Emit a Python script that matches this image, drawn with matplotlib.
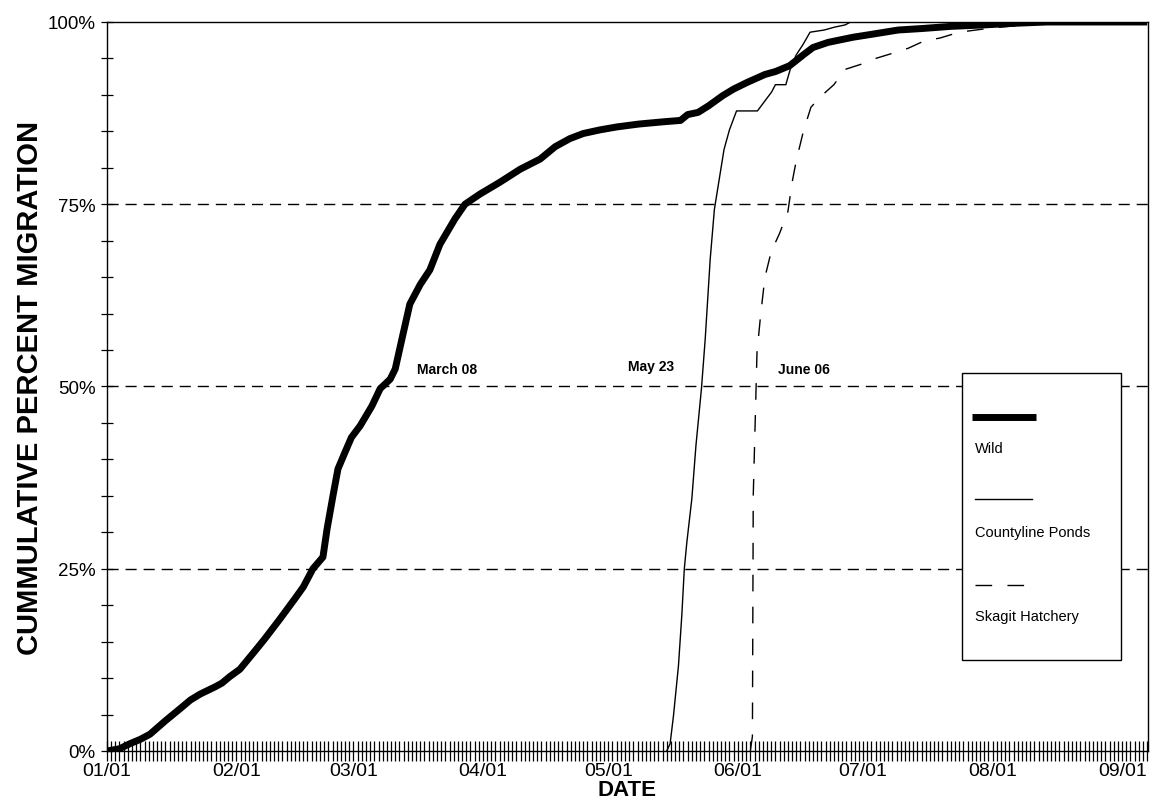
import numpy as np
import matplotlib
matplotlib.use("Agg")
import matplotlib.pyplot as plt
from matplotlib.patches import Rectangle
from matplotlib.lines import Line2D

plt.rcParams['font.family'] = ['Liberation Sans', 'DejaVu Sans']

# days since Jan 01, cumulative percent
wild_day = [0, 3, 5.5, 8, 10.3, 13.9, 17.5, 20, 22.3, 25.9, 27.5, 29.4, 31.8, 35.4,
            37.8, 41.4, 45, 47, 49.3, 51.7, 52.7, 54.1, 55.3, 57, 58.5, 60.6, 63.4,
            65.4, 67.8, 69, 70.6, 72.5, 75, 77.3, 79.7, 83.3, 85.7, 89.3, 94, 98.9,
            103.7, 107.3, 110.8, 114, 118, 122, 127.3, 133, 137.3, 139, 141.5, 144,
            147.4, 150, 153.2, 157.5, 160, 163.4, 166.7, 169, 172.6, 178.5, 184,
            189.4, 195, 202, 210, 216.3, 225, 249]
wild_pct = [0, 0.3, 1, 1.6, 2.3, 4.1, 5.8, 7, 7.8, 8.8, 9.3, 10.2, 11.2, 13.7,
            15.4, 18.1, 20.9, 22.5, 25, 26.6, 30.5, 35, 38.7, 41, 43, 44.6, 47.3,
            49.7, 51, 52.4, 56.5, 61.3, 64, 66, 69.5, 73, 75, 76.4, 78, 79.8,
            81.2, 82.9, 84, 84.7, 85.2, 85.6, 86.0, 86.3, 86.5, 87.3, 87.6, 88.5,
            89.9, 90.8, 91.7, 92.8, 93.2, 94, 95.5, 96.5, 97.2, 97.9, 98.4,
            98.9, 99.1, 99.4, 99.6, 99.8, 100, 100]

county_day = [134.0, 134.8, 135.6, 136.8, 137.6, 138.2, 138.8, 140, 141, 142.3, 143.2,
              144.4, 145.4, 147.7, 149, 150.7, 155.7, 159.1, 160, 162.5, 163.7, 165,
              166.6, 168.3, 171.7, 174.2, 176.7, 178, 249]
county_pct = [0, 1, 4.8, 11.7, 18.6, 25, 28.6, 34.6, 42, 49.7, 56.5,
              67.5, 74.3, 82.5, 85.2, 87.8, 87.8, 90.4, 91.4, 91.4, 93.8, 95.5,
              96.9, 98.6, 98.9, 99.3, 99.6, 100, 100]

skagit_day = [154.0, 154.5, 154.7, 155.6, 156.5, 157.5, 159, 161, 163, 164, 165, 166.7,
              168.5, 170.7, 174, 176.7, 180.5, 184, 188, 191.8, 195.6, 199.4, 204,
              212, 222, 230, 249]
skagit_pct = [0, 2, 35, 54.7, 60, 65, 68.5, 71, 74, 78, 81, 85,
              88.3, 89.7, 91.4, 93.5, 94.2, 95, 95.7, 96.4, 97.4, 97.8, 98.6,
              99.2, 99.7, 100, 100]

month_days = [0, 31, 59, 90, 120, 151, 181, 212, 243]
month_labels = ['01/01', '02/01', '03/01', '04/01', '05/01', '06/01', '07/01', '08/01', '09/01']

fig, ax = plt.subplots(figsize=(11.5, 8.04), dpi=100)
plt.subplots_adjust(left=0.093, right=0.9983, bottom=0.0647, top=0.9714)

for yy in [25, 50, 75]:
    ax.axhline(yy, color='black', lw=1.0, linestyle=(0, (8, 5)), zorder=1)

ax.plot(wild_day, wild_pct, color='black', lw=5, solid_capstyle='butt',
        solid_joinstyle='round', zorder=3)
ax.plot(county_day, county_pct, color='black', lw=1.0, zorder=3)
ax.plot(skagit_day, skagit_pct, color='black', lw=1.0, linestyle=(0, (12, 11)), zorder=3)

ax.set_xlim(0, 249.2)
ax.set_ylim(0, 100)

ax.set_xticks(month_days)
ax.set_xticklabels(month_labels)
ax.set_xticks(np.arange(0, 250), minor=True)
ax.set_yticks([0, 25, 50, 75, 100])
ax.set_yticklabels(['0%', '25%', '50%', '75%', '100%'])
ax.set_yticks(np.arange(0, 101, 5), minor=True)

ax.tick_params(axis='x', which='both', direction='inout', length=14, width=0.9, pad=1, labelsize=14)
ax.tick_params(axis='y', which='both', direction='inout', length=8, width=0.9, pad=4, labelsize=13.5)

for s in ax.spines.values():
    s.set_linewidth(1.0)

ax.set_xlabel('DATE', fontsize=16, fontweight='bold', labelpad=0)
ax.set_ylabel('CUMMULATIVE PERCENT MIGRATION', fontsize=21, fontweight='bold', labelpad=3)

ax.text(74.2, 52.4, 'March 08', fontsize=10, fontweight='bold', va='center', ha='left')
ax.text(124.7, 52.8, 'May 23', fontsize=10, fontweight='bold', va='center', ha='left')
ax.text(160.6, 52.4, 'June 06', fontsize=10, fontweight='bold', va='center', ha='left')

# legend box drawn by hand (line above its label)
ax.add_patch(Rectangle((0.821, 0.125), 0.153, 0.3935, transform=ax.transAxes,
                       facecolor='white', edgecolor='black', lw=1.0, zorder=5))
ax.add_line(Line2D([0.831, 0.892], [0.458, 0.458], transform=ax.transAxes,
                   color='black', lw=5, solid_capstyle='butt', zorder=6))
ax.add_line(Line2D([0.834, 0.889], [0.3457, 0.3457], transform=ax.transAxes,
                   color='black', lw=1.0, zorder=6))
ax.add_line(Line2D([0.834, 0.884], [0.2277, 0.2277], transform=ax.transAxes,
                   color='black', lw=1.0, linestyle=(0, (12, 11)), zorder=6))
ax.text(0.834, 0.4156, 'Wild', transform=ax.transAxes, fontsize=10.5, va='center', zorder=6)
ax.text(0.834, 0.3004, 'Countyline Ponds', transform=ax.transAxes, fontsize=10.5, va='center', zorder=6)
ax.text(0.834, 0.1852, 'Skagit Hatchery', transform=ax.transAxes, fontsize=10.5, va='center', zorder=6)

plt.savefig('out.png', dpi=100)
